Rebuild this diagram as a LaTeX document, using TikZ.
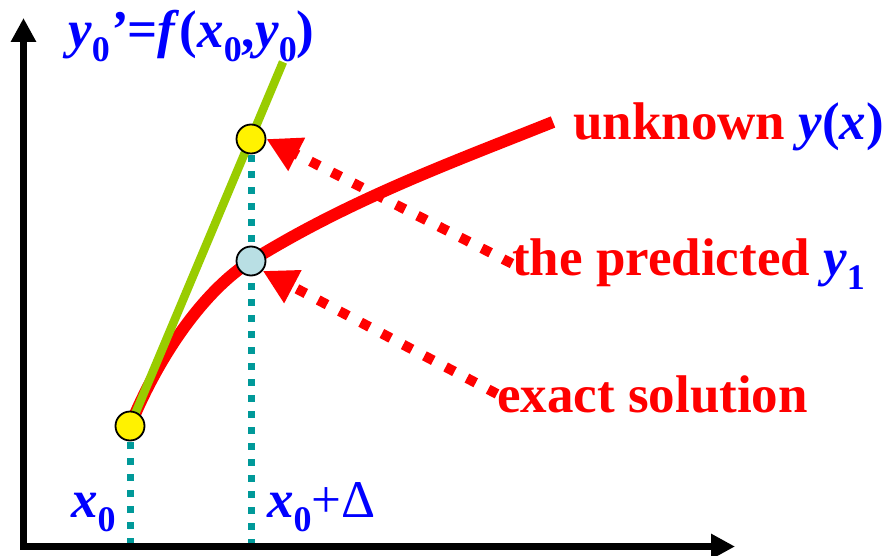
\documentclass[tikz,border=0pt]{standalone}
\usepackage{fontspec}
\setmainfont{Liberation Serif}
\usetikzlibrary{arrows.meta, backgrounds}

\definecolor{lime}{RGB}{153,204,0}
\definecolor{tealdot}{RGB}{0,153,153}
\definecolor{paleblue}{RGB}{185,223,228}

\newcommand{\dn}[1]{\raisebox{-14pt}{\fontsize{36}{40}\selectfont #1}}
\newcommand{\vi}[1]{\textit{#1}}

\begin{document}
\begin{tikzpicture}[
        x=1pt, y=-1pt,
        >={Triangle[length=24pt, width=24pt]},
        axis/.style={line width=6.5pt, line join=miter},
        guide/.style={draw=tealdot, line width=7pt, dash pattern=on 7pt off 9pt},
        dot/.style={circle, draw, line width=1.8pt, minimum size=29pt, inner sep=0pt},
        pointer/.style={red, line width=10pt, dash pattern=on 10pt off 14pt, -{Triangle[length=34pt, width=35pt]}},
        txt/.style={inner sep=0pt, anchor=base west, font=\fontsize{53}{62}\selectfont\bfseries}
    ]
        \useasboundingbox (0,0) rectangle (885,556);

        % Axes
        \coordinate (origin) at (23.5,546.5);
        \coordinate (ytip) at (23.5,18);
        \coordinate (xtip) at (735,546.5);
        \draw[axis, <->] (ytip) -- (origin) -- (xtip);

        % Points on the curves
        \node[dot, fill=yellow] (p0) at (130,426) {};
        \node[dot, fill=yellow] (p1) at (251,139) {};
        \node[dot, fill=paleblue] (q1) at (251,261) {};

        % Feet on the x axis and curve ends
        \coordinate (a0) at (130,543);
        \coordinate (a1) at (251,543);
        \coordinate (gtop) at (283,62);
        \coordinate (uend) at (553,122);

        % Labels
        \node[txt, text=blue] (slope) at (68,48) {\vi{y}\dn{0}\vi{’}=\vi{f}(\vi{x}\dn{0},\vi{y}\dn{0})};
        \node[txt, text=red] (unknown) at (573,140) {unknown \textcolor{blue}{\vi{y}(\vi{x})}};
        \node[txt, text=red] (pred) at (512,275) {the predicted \textcolor{blue}{\vi{y}\dn{1}}};
        \node[txt, text=red] (exact) at (497,412) {exact solution};
        \node[txt, text=blue] (x0) at (71,517) {\vi{x}\dn{0}};
        \node[txt, text=blue] (x1) at (267,517) {\vi{x}\dn{0}{\mdseries+Δ}};

        % Lines behind the points
        \begin{scope}[on background layer]
            \draw[guide] (p0.center) -- (a0);
            \draw[guide] (p1.center) -- (a1);
            \draw[red, line width=12pt] (p0.center) .. controls (160,353) and (205,290) .. (q1.center)
                .. controls (351,199) and (453,162) .. (uend);
            \draw[lime, line width=8.5pt] (p0.center) -- (gtop);
        \end{scope}

        % Pointers
        \draw[pointer] (pred.west) -- (p1.east);
        \draw[pointer] (exact.west) -- (q1.-40);

    \end{tikzpicture}
\end{document}
